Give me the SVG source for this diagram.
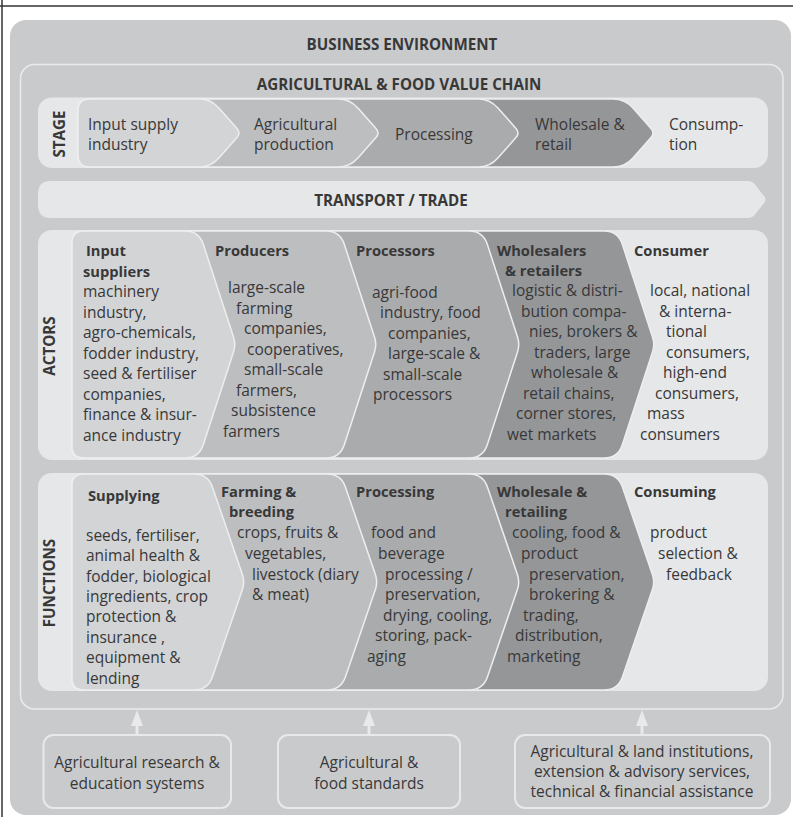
<svg xmlns="http://www.w3.org/2000/svg" width="793" height="817" viewBox="0 0 793 817">
<style>
.t{font-family:"Open Sans","Noto Sans",sans-serif;font-size:15.5px;fill:#383838}
.b{font-weight:bold;font-size:14.7px}
.h{font-family:"Open Sans","Noto Sans",sans-serif;font-weight:bold;font-size:15.2px;fill:#383838;text-anchor:middle}
.m{text-anchor:middle}
.pn{fill:#e6e7e8}
.c1{fill:#d3d4d6;stroke:#eeeeef;stroke-width:1.5}
.c2{fill:#bdbec0;stroke:#eeeeef;stroke-width:1.5}
.c3{fill:#aaabad;stroke:#eeeeef;stroke-width:1.5}
.c4{fill:#959698;stroke:#eeeeef;stroke-width:1.5}
.bx{fill:none;stroke:#e9e9ea;stroke-width:2}
.ln{stroke:#e9e9ea;stroke-width:3;fill:none}
</style>
<defs>
<marker id="arr" viewBox="0 0 16 12" markerWidth="16" markerHeight="12" refX="10" refY="6" orient="auto" markerUnits="userSpaceOnUse">
<path d="M0,0 L16,6 L0,12 Z" fill="#e9e9ea"/>
</marker>
</defs>
<rect width="793" height="817" fill="#ffffff"/>
<line x1="0" y1="6" x2="793" y2="6" stroke="#333" stroke-width="1.5"/>
<line x1="2" y1="0" x2="2" y2="817" stroke="#333" stroke-width="1.5"/>

<g id="business-environment">
<rect x="10" y="20" width="781" height="795" rx="16" fill="#c9cacc"/>
<text class="h" x="402" y="50">BUSINESS ENVIRONMENT</text>
</g>

<g id="value-chain">
<rect x="20.5" y="64.5" width="762.5" height="644.5" rx="14" fill="none" stroke="#ebebec" stroke-width="1.5"/>
<text class="h" x="399" y="90">AGRICULTURAL &amp; FOOD VALUE CHAIN</text>
</g>

<g id="stage">
<rect class="pn" x="38" y="97.5" width="730" height="70.5" rx="14"/>
<text class="h" transform="translate(65,134) rotate(-90)">STAGE</text>
<path class="c4" d="M90,99 L613,99 Q625,99 632.9,108 L651,128.5 Q655,133 651,137.5 L632.9,158 Q625,167 613,167 L90,167 Q78,167 78,155 L78,111 Q78,99 90,99 Z"/>
<path class="c3" d="M90,99 L478,99 Q490,99 497.9,108 L516,128.5 Q520,133 516,137.5 L497.9,158 Q490,167 478,167 L90,167 Q78,167 78,155 L78,111 Q78,99 90,99 Z"/>
<path class="c2" d="M90,99 L338,99 Q350,99 357.9,108 L376,128.5 Q380,133 376,137.5 L357.9,158 Q350,167 338,167 L90,167 Q78,167 78,155 L78,111 Q78,99 90,99 Z"/>
<path class="c1" d="M90,99 L199,99 Q211,99 218.9,108 L237,128.5 Q241,133 237,137.5 L218.9,158 Q211,167 199,167 L90,167 Q78,167 78,155 L78,111 Q78,99 90,99 Z"/>
<text class="t" x="88" y="130">Input supply</text>
<text class="t" x="88" y="150">industry</text>
<text class="t" x="254" y="130">Agricultural</text>
<text class="t" x="254" y="150">production</text>
<text class="t" x="395" y="140">Processing</text>
<text class="t" x="535" y="130">Wholesale &amp;</text>
<text class="t" x="535" y="150">retail</text>
<text class="t" x="669" y="130">Consump-</text>
<text class="t" x="669" y="150">tion</text>
</g>

<g id="transport">
<path class="pn" d="M51,181 L748,181 Q752,181 754.5,184 L764.5,196.5 Q766.5,199.5 764.5,202.5 L754.5,215 Q752,218 748,218 L51,218 Q38,218 38,205 L38,194 Q38,181 51,181 Z"/>
<text class="h" x="391" y="206">TRANSPORT / TRADE</text>
</g>

<g id="actors">
<rect class="pn" x="38" y="230" width="730" height="230" rx="14"/>
<text class="h" transform="translate(55,346) rotate(-90)">ACTORS</text>
<path class="c4" d="M84,231 L604,231 Q618,231 622.3,244.3 L652.5,336.9 Q655,344.5 652.5,352.1 L622.3,444.7 Q618,458 604,458 L84,458 Q72,458 72,446 L72,243 Q72,231 84,231 Z"/>
<path class="c3" d="M84,231 L469,231 Q483,231 487.3,244.3 L517.5,336.9 Q520,344.5 517.5,352.1 L487.3,444.7 Q483,458 469,458 L84,458 Q72,458 72,446 L72,243 Q72,231 84,231 Z"/>
<path class="c2" d="M84,231 L326,231 Q340,231 344.3,244.3 L374.5,336.9 Q377,344.5 374.5,352.1 L344.3,444.7 Q340,458 326,458 L84,458 Q72,458 72,446 L72,243 Q72,231 84,231 Z"/>
<path class="c1" d="M84,231 L185,231 Q199,231 203.3,244.3 L233.5,336.9 Q236,344.5 233.5,352.1 L203.3,444.7 Q199,458 185,458 L84,458 Q72,458 72,446 L72,243 Q72,231 84,231 Z"/>
</g>

<g id="actor-input-suppliers">
<text class="t b" x="86" y="256">Input</text>
<text class="t b" x="83" y="276.5">suppliers</text>
<text class="t" x="83" y="297.3">machinery</text>
<text class="t" x="83" y="317.8">industry,</text>
<text class="t" x="83" y="338.3">agro-chemicals,</text>
<text class="t" x="83" y="358.8">fodder industry,</text>
<text class="t" x="83" y="379.3">seed &amp; fertiliser</text>
<text class="t" x="83" y="399.8">companies,</text>
<text class="t" x="83" y="420.3">finance &amp; insur-</text>
<text class="t" x="83" y="440.8">ance industry</text>
</g>
<g id="actor-producers">
<text class="t b" x="215" y="256">Producers</text>
<text class="t" x="228" y="293.3">large-scale</text>
<text class="t" x="236" y="313.8">farming</text>
<text class="t" x="244" y="334.3">companies,</text>
<text class="t" x="247" y="354.8">cooperatives,</text>
<text class="t" x="244" y="375.3">small-scale</text>
<text class="t" x="236" y="395.8">farmers,</text>
<text class="t" x="231" y="416.3">subsistence</text>
<text class="t" x="223" y="436.8">farmers</text>
</g>
<g id="actor-processors">
<text class="t b" x="356" y="256">Processors</text>
<text class="t" x="372" y="297.8">agri-food</text>
<text class="t" x="380" y="318.3">industry, food</text>
<text class="t" x="388" y="338.8">companies,</text>
<text class="t" x="388" y="359.3">large-scale &amp;</text>
<text class="t" x="383" y="379.8">small-scale</text>
<text class="t" x="373" y="400.3">processors</text>
</g>
<g id="actor-wholesalers">
<text class="t b" x="497" y="255.5">Wholesalers</text>
<text class="t b" x="505" y="276">&amp; retailers</text>
<text class="t" x="512" y="296.3">logistic &amp; distri-</text>
<text class="t" x="521" y="316.8">bution compa-</text>
<text class="t" x="529" y="337.3">nies, brokers &amp;</text>
<text class="t" x="534" y="357.8">traders, large</text>
<text class="t" x="531" y="378.3">wholesale &amp;</text>
<text class="t" x="523" y="398.8">retail chains,</text>
<text class="t" x="516" y="419.3">corner stores,</text>
<text class="t" x="507" y="439.8">wet markets</text>
</g>
<g id="actor-consumer">
<text class="t b" x="634" y="255.5">Consumer</text>
<text class="t" x="650" y="296.3">local, national</text>
<text class="t" x="659" y="316.8">&amp; interna-</text>
<text class="t" x="666" y="337.3">tional</text>
<text class="t" x="666" y="357.8">consumers,</text>
<text class="t" x="663" y="378.3">high-end</text>
<text class="t" x="655" y="398.8">consumers,</text>
<text class="t" x="647" y="419.3">mass</text>
<text class="t" x="640" y="439.8">consumers</text>
</g>

<g id="functions">
<rect class="pn" x="38" y="473" width="730" height="218" rx="14"/>
<text class="h" transform="translate(55,583) rotate(-90)">FUNCTIONS</text>
<path class="c4" d="M84,474 L604,474 Q618,474 622.5,487.2 L652.4,574.4 Q655,582 652.4,589.6 L622.5,676.8 Q618,690 604,690 L84,690 Q72,690 72,678 L72,486 Q72,474 84,474 Z"/>
<path class="c3" d="M84,474 L469,474 Q483,474 487.5,487.2 L517.4,574.4 Q520,582 517.4,589.6 L487.5,676.8 Q483,690 469,690 L84,690 Q72,690 72,678 L72,486 Q72,474 84,474 Z"/>
<path class="c2" d="M84,474 L327,474 Q341,474 345.5,487.2 L375.4,574.4 Q378,582 375.4,589.6 L345.5,676.8 Q341,690 327,690 L84,690 Q72,690 72,678 L72,486 Q72,474 84,474 Z"/>
<path class="c1" d="M84,474 L194,474 Q208,474 212.5,487.2 L242.4,574.4 Q245,582 242.4,589.6 L212.5,676.8 Q208,690 194,690 L84,690 Q72,690 72,678 L72,486 Q72,474 84,474 Z"/>
</g>

<g id="function-supplying">
<text class="t b" x="88" y="500.7">Supplying</text>
<text class="t" x="86" y="541">seeds, fertiliser,</text>
<text class="t" x="86" y="561.4">animal health &amp;</text>
<text class="t" x="86" y="581.7">fodder, biological</text>
<text class="t" x="86" y="602">ingredients, crop</text>
<text class="t" x="86" y="622.4">protection &amp;</text>
<text class="t" x="86" y="642.8">insurance ,</text>
<text class="t" x="86" y="663.1">equipment &amp;</text>
<text class="t" x="86" y="683.5">lending</text>
</g>
<g id="function-farming">
<text class="t b" x="221" y="496.7">Farming &amp;</text>
<text class="t b" x="229" y="517.3">breeding</text>
<text class="t" x="237" y="538.3">crops, fruits &amp;</text>
<text class="t" x="245" y="558.9">vegetables,</text>
<text class="t" x="252" y="579.5">livestock (diary</text>
<text class="t" x="252" y="600.1">&amp; meat)</text>
</g>
<g id="function-processing">
<text class="t b" x="356" y="496.7">Processing</text>
<text class="t" x="371" y="538.3">food and</text>
<text class="t" x="378" y="558.9">beverage</text>
<text class="t" x="385" y="579.5">processing /</text>
<text class="t" x="385" y="600.1">preservation,</text>
<text class="t" x="383" y="620.7">drying, cooling,</text>
<text class="t" x="375" y="641.3">storing, pack-</text>
<text class="t" x="367" y="661.9">aging</text>
</g>
<g id="function-wholesale">
<text class="t b" x="497" y="496.7">Wholesale &amp;</text>
<text class="t b" x="505" y="517.3">retailing</text>
<text class="t" x="512" y="538.3">cooling, food &amp;</text>
<text class="t" x="521" y="558.9">product</text>
<text class="t" x="529" y="579.5">preservation,</text>
<text class="t" x="529" y="600.1">brokering &amp;</text>
<text class="t" x="523" y="620.7">trading,</text>
<text class="t" x="515" y="641.3">distribution,</text>
<text class="t" x="507" y="661.9">marketing</text>
</g>
<g id="function-consuming">
<text class="t b" x="634" y="496.7">Consuming</text>
<text class="t" x="650" y="538.3">product</text>
<text class="t" x="658" y="558.9">selection &amp;</text>
<text class="t" x="666" y="579.5">feedback</text>
</g>

<g id="connectors">
<line class="ln" x1="137" y1="735" x2="137" y2="716" marker-end="url(#arr)"/>
<line class="ln" x1="369" y1="735" x2="369" y2="716" marker-end="url(#arr)"/>
<line class="ln" x1="642" y1="735" x2="642" y2="716" marker-end="url(#arr)"/>
</g>

<g id="research-education">
<rect class="bx" x="43.5" y="735" width="187.5" height="73" rx="10"/>
<text class="t m" x="137" y="768.3">Agricultural research &amp;</text>
<text class="t m" x="137" y="788.5">education systems</text>
</g>
<g id="food-standards">
<rect class="bx" x="278" y="735" width="182" height="73" rx="10"/>
<text class="t m" x="369" y="768.3">Agricultural &amp;</text>
<text class="t m" x="369" y="788.5">food standards</text>
</g>
<g id="institutions">
<rect class="bx" x="515" y="735" width="255" height="73" rx="10"/>
<text class="t m" x="642" y="756.7">Agricultural &amp; land institutions,</text>
<text class="t m" x="642" y="777">extension &amp; advisory services,</text>
<text class="t m" x="642" y="797.3">technical &amp; financial assistance</text>
</g>
</svg>
